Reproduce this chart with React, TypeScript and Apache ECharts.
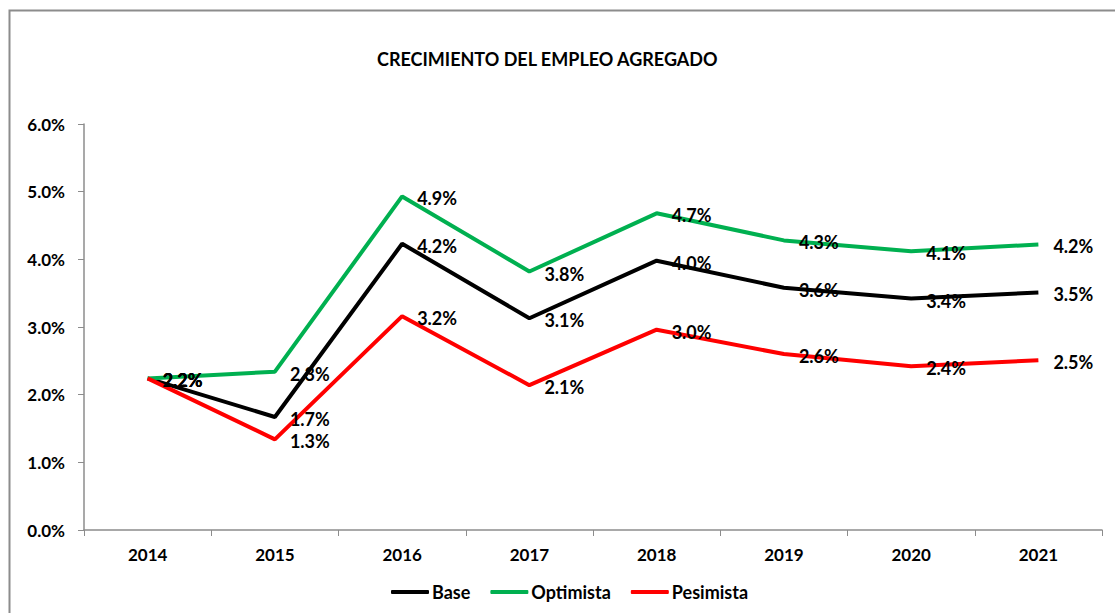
import React, { useEffect, useRef } from "react";
import * as echarts from "echarts";

const years = ["2014", "2015", "2016", "2017", "2018", "2019", "2020", "2021"];
const base = [2.24, 1.67, 4.23, 3.13, 3.98, 3.58, 3.42, 3.51];
const optimista = [2.24, 2.34, 4.93, 3.82, 4.68, 4.28, 4.12, 4.22];
const pesimista = [2.24, 1.34, 3.16, 2.14, 2.96, 2.6, 2.42, 2.51];

const FONT = "Lato";

function mkSeries(name: string, data: number[], color: string) {
  return {
    name,
    type: "line",
    data,
    symbol: "circle",
    symbolSize: 0,
    showSymbol: true,
    lineStyle: { color, width: 4 },
    itemStyle: { color },
    label: {
      show: true,
      position: "right",
      distance: 15,
      offset: [0, 2],
      color: "#000",
      fontFamily: FONT,
      fontWeight: "bold",
      fontSize: 18,
      formatter: (p: any) => `${Number(p.value).toFixed(1)}%`,
    },
  };
}

export default function App() {
  const ref = useRef<HTMLDivElement>(null);
  useEffect(() => {
    if (!ref.current) return;
    const chart = echarts.init(ref.current, undefined, { renderer: "svg" });
    chart.setOption({
      animation: false,
      backgroundColor: "#fff",
      graphic: [
        {
          type: "rect",
          left: 7,
          top: 8,
          shape: { width: 1120, height: 620 },
          style: { fill: "none", stroke: "#8c8c8c", lineWidth: 2 },
          z: -1,
        },
      ],
      title: {
        text: "CRECIMIENTO DEL EMPLEO AGREGADO",
        left: 372,
        top: 45,
        textStyle: { fontFamily: FONT, fontWeight: "bold", fontSize: 18, color: "#000" },
      },
      legend: {
        left: 386,
        top: 578,
        icon: "roundRect",
        itemWidth: 38,
        itemHeight: 4,
        itemGap: 20,
        itemStyle: { borderWidth: 0 },
        textStyle: { fontFamily: FONT, fontWeight: "bold", fontSize: 18, color: "#000", padding: [0, 0, 0, -2] },
        data: ["Base", "Optimista", "Pesimista"],
      },
      grid: { left: 84, right: 13, top: 124, bottom: 83 },
      xAxis: {
        type: "category",
        data: years,
        boundaryGap: true,
        axisLine: { lineStyle: { color: "#8c8c8c", width: 1.5 } },
        axisTick: { show: true, length: 6, lineStyle: { color: "#8c8c8c" } },
        axisLabel: { margin: 16, fontFamily: FONT, fontWeight: "bold", fontSize: 17, color: "#000" },
      },
      yAxis: {
        type: "value",
        min: 0,
        max: 6,
        interval: 1,
        axisLine: { show: true, lineStyle: { color: "#8c8c8c", width: 1.5 } },
        axisTick: { show: true, length: 6, lineStyle: { color: "#8c8c8c" } },
        splitLine: { show: false },
        axisLabel: {
          margin: 19,
          fontFamily: FONT,
          fontWeight: "bold",
          fontSize: 17,
          color: "#000",
          formatter: (v: number) => `${v.toFixed(1)}%`,
        },
      },
      series: [
        mkSeries("Base", base, "#000000"),
        mkSeries("Optimista", optimista, "#00b050"),
        mkSeries("Pesimista", pesimista, "#ff0000"),
      ],
    });
    return () => chart.dispose();
  }, []);
  return (
    <div
      ref={ref}
      style={{ position: "fixed", left: 0, top: 0, width: 1115, height: 613 }}
    />
  );
}
